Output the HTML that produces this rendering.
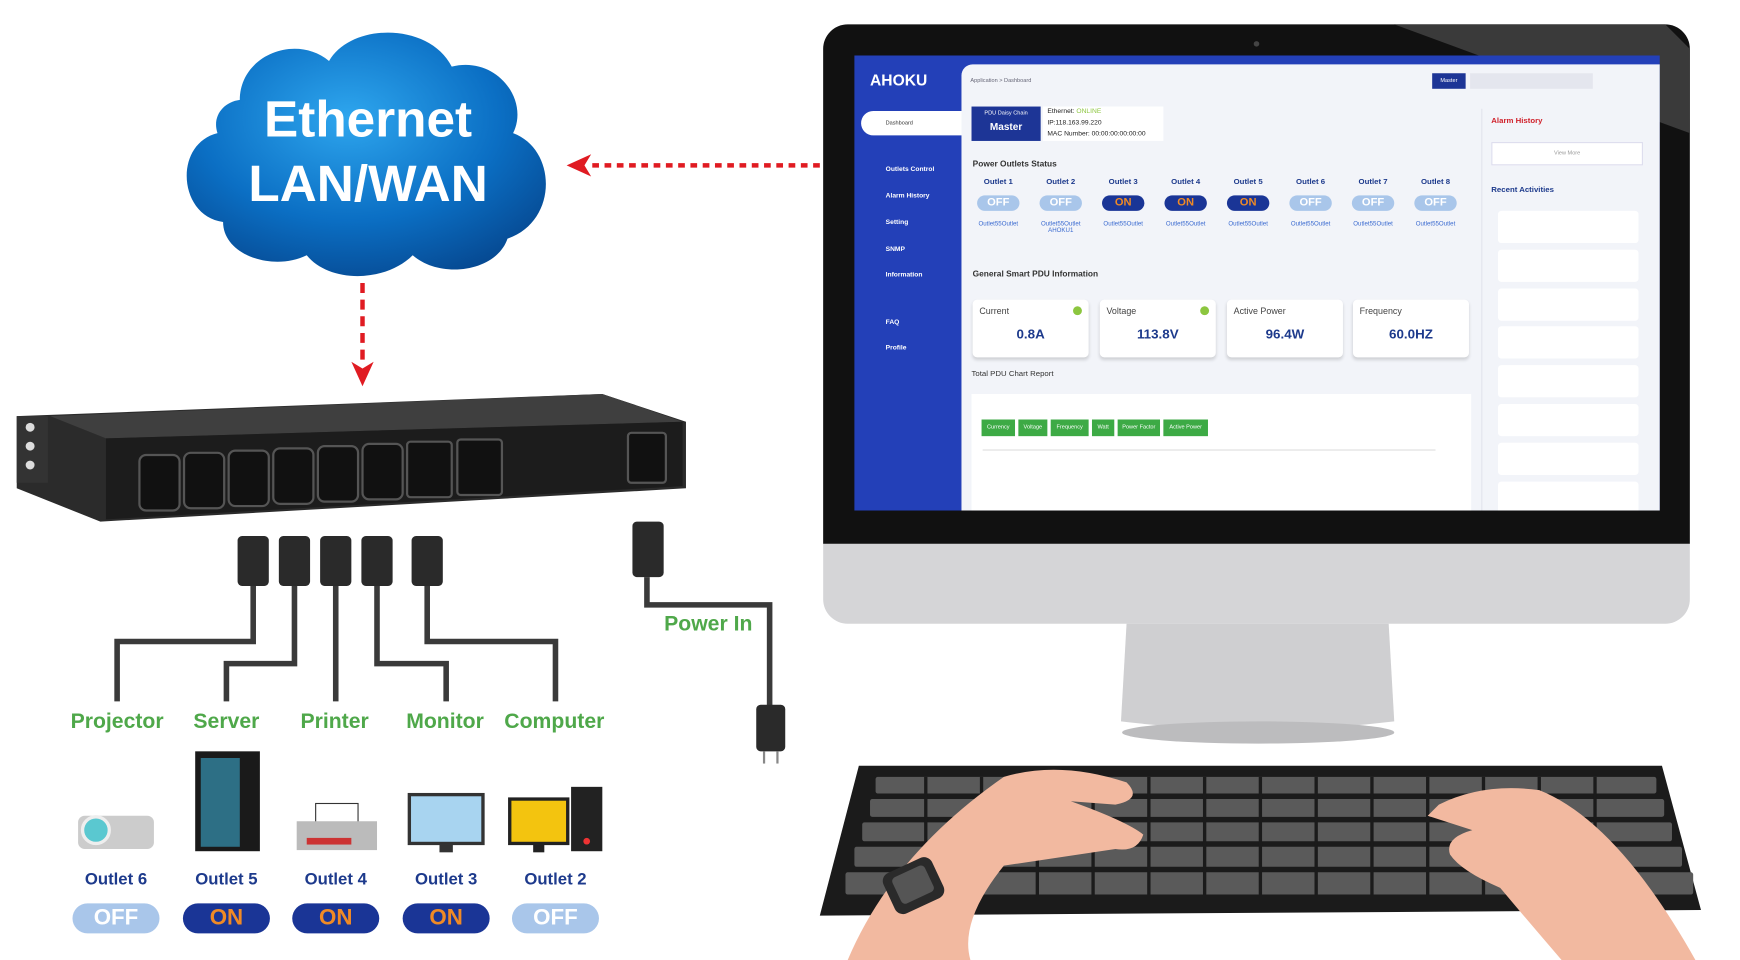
<!DOCTYPE html>
<html><head><meta charset="utf-8">
<style>
html,body{margin:0;padding:0;background:#fff;width:1740px;height:960px;overflow:hidden}
#w{position:absolute;left:0;top:0;width:1560px;height:865px;transform:scale(1.1154,1.1098);transform-origin:0 0;font-family:"Liberation Sans",sans-serif}
.a{position:absolute}
.g{color:#4fa84a;font-weight:bold;font-size:19px;position:absolute;text-align:center;width:120px}
.o{color:#1d3a8c;font-weight:bold;font-size:15px;position:absolute;text-align:center;width:100px}
.pill{position:absolute;width:78px;height:27px;border-radius:14px;font-weight:bold;font-size:20px;text-align:center;line-height:27px}
.off{background:#a9c6ea;color:#fff}.on{background:#1a3596;color:#f08a25}
.sb{position:absolute;left:14px;color:#fff;font-size:6px;font-weight:bold}
.ol{position:absolute;font-size:7px;color:#1d3a8c;width:50px;text-align:center;font-weight:bold}
.sp{position:absolute;width:38px;height:14px;border-radius:7px;font-size:10px;font-weight:bold;text-align:center;line-height:14px}
.lk{position:absolute;font-size:5.5px;color:#3a6ad0;width:56px;text-align:center}
.card{position:absolute;top:212px;width:104px;height:52px;background:#fff;border-radius:4px;box-shadow:0 2px 3px rgba(0,0,0,.15)}
.card .t{position:absolute;left:6px;top:6px;font-size:8px;color:#444}
.card .v{position:absolute;left:0;width:100%;top:24px;text-align:center;font-size:12px;font-weight:bold;color:#1d3a8c}
.dot{position:absolute;right:6px;top:6px;width:8px;height:8px;border-radius:50%;background:#8cc63f}
.act{position:absolute;left:0;width:126px;height:29px;background:#fff;border-radius:3px;font-size:5px;color:#333}
.cb{position:absolute;top:320px;height:15px;background:#3daa45;color:#fff;font-size:5px;text-align:center;line-height:15px}
</style></head><body><div id="w">

<!-- cloud -->
<svg class="a" style="left:155px;top:20px" width="350" height="235" viewBox="0 0 350 235">
<defs><radialGradient id="cg" cx="45%" cy="35%" r="70%"><stop offset="0" stop-color="#2ea6ee"/><stop offset=".6" stop-color="#0b6fc4"/><stop offset="1" stop-color="#064a93"/></radialGradient></defs>
<path fill="url(#cg)" d="M60 70 C60 30 110 10 140 35 C160 0 230 0 250 40 C290 30 320 70 305 100 C345 115 345 180 300 195 C290 225 240 232 215 210 C190 235 140 235 120 210 C90 225 45 210 45 180 C5 175 0 110 40 100 C35 85 45 72 60 70Z"/>
</svg>
<div class="a" style="left:165px;top:78px;width:330px;text-align:center;color:#fff;font-weight:bold;font-size:46px;line-height:58px">Ethernet<br>LAN/WAN</div>

<!-- arrows -->
<svg class="a" style="left:0;top:0" width="1560" height="865">
<line x1="735" y1="149" x2="528" y2="149" stroke="#e01b22" stroke-width="4" stroke-dasharray="6,5"/>
<polygon points="508,149 530,139 524,149 530,159" fill="#e01b22"/>
<line x1="325" y1="255" x2="325" y2="328" stroke="#e01b22" stroke-width="4" stroke-dasharray="9,6"/>
<polygon points="325,348 315,326 325,332 335,326" fill="#e01b22"/>
<!-- PDU -->
<polygon points="15,375 540,355 615,380 615,440 90,470 15,440" fill="#2b2b2b"/>
<polygon points="45,375 540,355 612,380 95,395" fill="#3f3f3f"/>
<polygon points="95,395 612,380 612,438 95,468" fill="#1c1c1c"/>
<rect x="15" y="375" width="28" height="60" fill="#333"/>
<circle cx="27" cy="385" r="4" fill="#ddd"/><circle cx="27" cy="402" r="4" fill="#ddd"/><circle cx="27" cy="419" r="4" fill="#ddd"/>
<g fill="#111" stroke="#555" stroke-width="2">
<rect x="125" y="410" width="36" height="50" rx="6"/><rect x="165" y="408" width="36" height="50" rx="6"/><rect x="205" y="406" width="36" height="50" rx="6"/><rect x="245" y="404" width="36" height="50" rx="6"/><rect x="285" y="402" width="36" height="50" rx="6"/><rect x="325" y="400" width="36" height="50" rx="6"/>
<rect x="365" y="398" width="40" height="50" rx="3"/><rect x="410" y="396" width="40" height="50" rx="3"/>
<rect x="563" y="390" width="34" height="45" rx="3"/>
</g>
<!-- cables -->
<g stroke="#3a3a3a" stroke-width="5" fill="none">
<path d="M227 528 V578 H105 V632"/><path d="M264 528 V598 H203 V632"/><path d="M301 528 V632"/><path d="M338 528 V598 H400 V632"/><path d="M383 528 V578 H498 V632"/>
<path d="M580 520 V545 H690 V640"/>
</g>
<g fill="#2a2a2a">
<rect x="213" y="483" width="28" height="45" rx="4"/><rect x="250" y="483" width="28" height="45" rx="4"/><rect x="287" y="483" width="28" height="45" rx="4"/><rect x="324" y="483" width="28" height="45" rx="4"/><rect x="369" y="483" width="28" height="45" rx="4"/>
<rect x="567" y="470" width="28" height="50" rx="4"/><rect x="678" y="635" width="26" height="42" rx="4"/>
</g>
<line x1="685" y1="677" x2="685" y2="688" stroke="#888" stroke-width="2"/><line x1="697" y1="677" x2="697" y2="688" stroke="#888" stroke-width="2"/>
<!-- devices -->
<rect x="70" y="735" width="68" height="30" rx="6" fill="#ccc"/><circle cx="86" cy="748" r="12" fill="#5ac8d0" stroke="#eee" stroke-width="3"/>
<rect x="175" y="677" width="58" height="90" fill="#1a1a1a"/><rect x="180" y="683" width="35" height="80" fill="#2d6f85"/>
<rect x="283" y="724" width="38" height="18" fill="#fff" stroke="#333"/><rect x="266" y="740" width="72" height="26" fill="#bbb"/><rect x="275" y="755" width="40" height="6" fill="#c33"/>
<rect x="367" y="716" width="66" height="44" fill="#a8d4f0" stroke="#333" stroke-width="3"/><rect x="394" y="760" width="12" height="8" fill="#333"/>
<rect x="457" y="720" width="52" height="40" fill="#f3c40f" stroke="#222" stroke-width="3"/><rect x="478" y="760" width="10" height="8" fill="#222"/>
<rect x="512" y="709" width="28" height="58" fill="#222"/><circle cx="526" cy="758" r="3" fill="#e33"/>
<!-- monitor -->
<rect x="738" y="22" width="777" height="540" rx="22" fill="#d5d5d7"/>
<path d="M760 22 H1493 A22 22 0 0 1 1515 44 V490 H738 V44 A22 22 0 0 1 760 22Z" fill="#111"/>
<polygon points="1250,22 1493,22 1515,44 1515,120" fill="#3a3a3a"/>
<path d="M1010 562 H1245 L1250 650 Q1128 665 1005 650Z" fill="#cfcfd1"/>
<ellipse cx="1128" cy="660" rx="122" ry="10" fill="#bcbcbe"/>
<!-- keyboard -->
<polygon points="770,690 1490,690 1525,820 735,825" fill="#1b1b1b"/>
<g fill="#5a5a5a">
<rect x="785" y="700" width="700" height="15" rx="2"/><rect x="780" y="720" width="712" height="16" rx="2"/><rect x="773" y="741" width="726" height="17" rx="2"/><rect x="766" y="763" width="742" height="18" rx="2"/><rect x="758" y="786" width="760" height="20" rx="2"/>
</g>
<g stroke="#1b1b1b" stroke-width="3">
<path d="M830 700V806M880 700V806M930 700V806M980 700V806M1030 700V806M1080 700V806M1130 700V806M1180 700V806M1230 700V806M1280 700V806M1330 700V806M1380 700V806M1430 700V806"/>
</g>
<!-- hands -->
<path d="M900 700 Q950 685 1010 705 Q1025 720 1000 725 L960 722 Q1010 740 1025 752 Q1020 768 1000 765 L900 780 Q860 830 870 865 H760 Q800 770 900 700Z" fill="#f2b9a0"/>
<path d="M1290 725 Q1330 705 1380 712 Q1450 740 1520 865 H1400 Q1370 830 1345 800 Q1310 785 1300 770 Q1295 755 1320 748 L1280 735Z" fill="#f2b9a0"/>
<rect x="795" y="778" width="48" height="40" rx="8" fill="#2a2a2a" transform="rotate(-25 819 798)"/><rect x="803" y="784" width="32" height="26" rx="4" fill="#555" transform="rotate(-25 819 798)"/>
</svg>

<div class="g" style="left:45px;top:640px">Projector</div><div class="g" style="left:143px;top:640px">Server</div><div class="g" style="left:240px;top:640px">Printer</div><div class="g" style="left:339px;top:640px">Monitor</div><div class="g" style="left:437px;top:640px">Computer</div>
<div class="g" style="left:575px;top:552px">Power In</div>
<div class="o" style="left:54px;top:784px">Outlet 6</div><div class="o" style="left:153px;top:784px">Outlet 5</div><div class="o" style="left:251px;top:784px">Outlet 4</div><div class="o" style="left:350px;top:784px">Outlet 3</div><div class="o" style="left:448px;top:784px">Outlet 2</div>
<div class="pill off" style="left:65px;top:814px">OFF</div><div class="pill on" style="left:164px;top:814px">ON</div><div class="pill on" style="left:262px;top:814px">ON</div><div class="pill on" style="left:361px;top:814px">ON</div><div class="pill off" style="left:459px;top:814px">OFF</div>

<!-- screen -->
<div class="a" style="left:766px;top:50px;width:722px;height:410px;background:#2340b8;overflow:hidden">
 <div class="a" style="left:14px;top:14px;color:#fff;font-size:14px;font-weight:bold">AHOKU</div>
 <div class="a" style="left:6px;top:50px;width:96px;height:22px;background:#fff;border-radius:11px 0 0 11px"></div>
 <div class="a" style="left:28px;top:58px;font-size:5px;color:#333">Dashboard</div>
 <div class="sb" style="left:28px;top:100px">Outlets Control</div>
 <div class="sb" style="left:28px;top:124px">Alarm History</div>
 <div class="sb" style="left:28px;top:148px">Setting</div>
 <div class="sb" style="left:28px;top:172px">SNMP</div>
 <div class="sb" style="left:28px;top:195px">Information</div>
 <div class="sb" style="left:28px;top:238px">FAQ</div>
 <div class="sb" style="left:28px;top:261px">Profile</div>
 <div class="a" style="left:96px;top:8px;width:630px;height:410px;background:#f2f4f9;border-radius:10px 0 0 0">
  <div class="a" style="left:8px;top:12px;font-size:5px;color:#667">Application &gt; Dashboard</div>
  <div class="a" style="left:422px;top:8px;width:30px;height:14px;background:#1d3596;color:#fff;font-size:5px;text-align:center;line-height:14px">Master</div>
  <div class="a" style="left:456px;top:8px;width:110px;height:14px;background:#e4e6ee"></div>
  <div class="a" style="left:9px;top:38px;width:62px;height:31px;background:#1d3596;color:#fff;text-align:center;font-size:5px;line-height:12px">PDU Daisy Chain<br><b style="font-size:9px">Master</b></div>
  <div class="a" style="left:73px;top:38px;width:108px;height:31px;background:#fff;font-size:6px;line-height:10px;color:#222;padding-left:4px;box-sizing:border-box">Ethernet: <span style="color:#8cc63f">ONLINE</span><br>IP:118.163.99.220<br>MAC Number: 00:00:00:00:00:00</div>
  <div class="a" style="left:10px;top:85px;font-size:7.5px;font-weight:bold;color:#333">Power Outlets Status</div>
  <div class="ol" style="left:8px;top:103px">Outlet 1</div><div class="ol" style="left:64px;top:103px">Outlet 2</div><div class="ol" style="left:120px;top:103px">Outlet 3</div><div class="ol" style="left:176px;top:103px">Outlet 4</div><div class="ol" style="left:232px;top:103px">Outlet 5</div><div class="ol" style="left:288px;top:103px">Outlet 6</div><div class="ol" style="left:344px;top:103px">Outlet 7</div><div class="ol" style="left:400px;top:103px">Outlet 8</div>
  <div class="sp off" style="left:14px;top:118px">OFF</div><div class="sp off" style="left:70px;top:118px">OFF</div><div class="sp on" style="left:126px;top:118px">ON</div><div class="sp on" style="left:182px;top:118px">ON</div><div class="sp on" style="left:238px;top:118px">ON</div><div class="sp off" style="left:294px;top:118px">OFF</div><div class="sp off" style="left:350px;top:118px">OFF</div><div class="sp off" style="left:406px;top:118px">OFF</div>
  <div class="lk" style="left:5px;top:141px">Outlet55Outlet</div><div class="lk" style="left:61px;top:141px">Outlet55Outlet<br>AHOKU1</div><div class="lk" style="left:117px;top:141px">Outlet55Outlet</div><div class="lk" style="left:173px;top:141px">Outlet55Outlet</div><div class="lk" style="left:229px;top:141px">Outlet55Outlet</div><div class="lk" style="left:285px;top:141px">Outlet55Outlet</div><div class="lk" style="left:341px;top:141px">Outlet55Outlet</div><div class="lk" style="left:397px;top:141px">Outlet55Outlet</div>
  <div class="a" style="left:10px;top:184px;font-size:7.5px;font-weight:bold;color:#333">General Smart PDU Information</div>
  <div class="card" style="left:10px"><div class="t">Current</div><div class="dot"></div><div class="v">0.8A</div></div>
  <div class="card" style="left:124px"><div class="t">Voltage</div><div class="dot"></div><div class="v">113.8V</div></div>
  <div class="card" style="left:238px"><div class="t">Active Power</div><div class="v">96.4W</div></div>
  <div class="card" style="left:351px"><div class="t">Frequency</div><div class="v">60.0HZ</div></div>
  <div class="a" style="left:9px;top:276px;font-size:7px;color:#333">Total PDU Chart Report</div>
  <div class="a" style="left:9px;top:297px;width:448px;height:120px;background:#fff"></div>
  <div class="cb" style="left:18px;width:30px">Currency</div><div class="cb" style="left:51px;width:26px">Voltage</div><div class="cb" style="left:80px;width:34px">Frequency</div><div class="cb" style="left:117px;width:20px">Watt</div><div class="cb" style="left:140px;width:38px">Power Factor</div><div class="cb" style="left:181px;width:40px">Active Power</div>
  <div class="a" style="left:19px;top:347px;width:406px;height:1px;background:#ddd"></div>
  <div class="a" style="left:466px;top:40px;width:1px;height:370px;background:#e3e5ec"></div>
  <div class="a" style="left:475px;top:48px;font-size:7px;font-weight:bold;color:#d0202a">Alarm History</div>
  <div class="a" style="left:475px;top:70px;width:134px;height:19px;border:1px solid #dde;background:#fff;font-size:5px;color:#999;text-align:center;line-height:19px">View More</div>
  <div class="a" style="left:475px;top:110px;font-size:7px;font-weight:bold;color:#1d3a8c">Recent Activities</div>
  <div class="a" style="left:481px;top:132px">
   <div class="act" style="top:0"></div><div class="act" style="top:35px"></div><div class="act" style="top:70px"></div><div class="act" style="top:104px"></div><div class="act" style="top:139px"></div><div class="act" style="top:174px"></div><div class="act" style="top:209px"></div><div class="act" style="top:244px"></div>
  </div>
 </div>
</div>
<div class="a" style="left:1124px;top:37px;width:5px;height:5px;border-radius:50%;background:#444"></div>
</div></body></html>
